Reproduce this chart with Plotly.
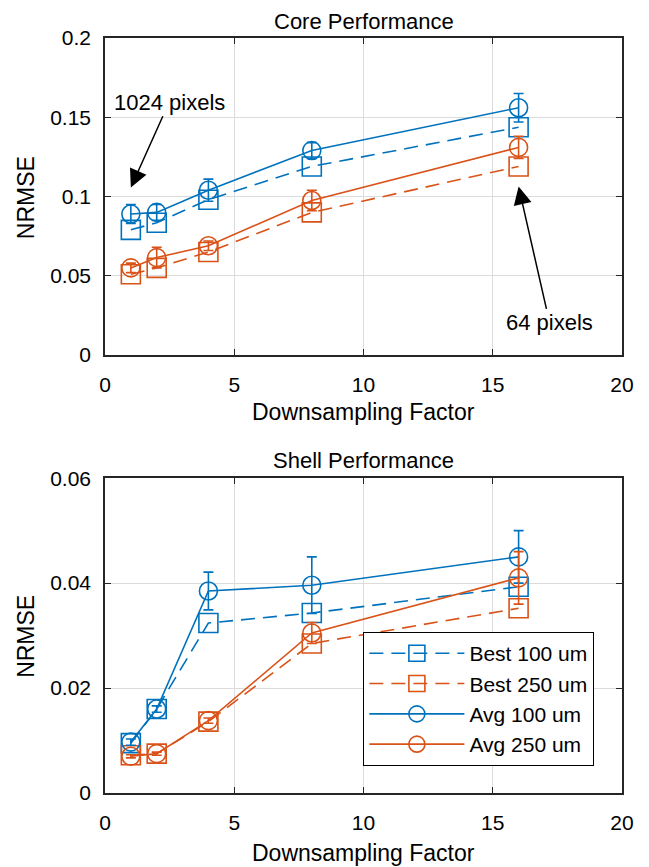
import plotly.graph_objects as go

factors = [1, 2, 4, 8, 16]

# Core performance
core_best_100 = [0.079, 0.0835, 0.098, 0.119, 0.1437]
core_best_250 = [0.051, 0.055, 0.065, 0.090, 0.119]
core_avg_100 = [0.089, 0.090, 0.104, 0.129, 0.156]
core_avg_100_err = [0.006, 0.005, 0.007, 0.005, 0.009]
core_avg_250 = [0.055, 0.0615, 0.069, 0.0975, 0.131]
core_avg_250_err = [0.003, 0.0065, 0.003, 0.0065, 0.007]

# Shell performance
shell_best_100 = [0.0095, 0.016, 0.0324, 0.0343, 0.0393]
shell_best_250 = [0.0072, 0.0075, 0.0136, 0.0285, 0.0352]
shell_avg_100 = [0.0097, 0.016, 0.0385, 0.0396, 0.045]
shell_avg_100_err = [0.0006, 0.0006, 0.0036, 0.0054, 0.005]
shell_avg_250 = [0.007, 0.0075, 0.0138, 0.0305, 0.041]
shell_avg_250_err = [0.0003, 0.0003, 0.0005, 0.002, 0.005]

labels = ["Best 100 um", "Best 250 um", "Avg 100 um", "Avg 250 um"]
x_ticks = [0, 5, 10, 15, 20]
core_y_ticks = [0, 0.05, 0.1, 0.15, 0.2]
shell_y_ticks = [0, 0.02, 0.04, 0.06]

BLUE = "#0072BD"
ORANGE = "#D95319"
FONT = "Liberation Sans, Arial, Helvetica, sans-serif"
DASH = "14px,8px"

fig = go.Figure()


def add_series(xa, ya, best100, best250, avg100, avg100e, avg250, avg250e, show):
    specs = [
        (best100, None, BLUE, DASH, "square-open", 19, labels[0]),
        (best250, None, ORANGE, DASH, "square-open", 19, labels[1]),
        (avg100, avg100e, BLUE, "solid", "circle-open", 18, labels[2]),
        (avg250, avg250e, ORANGE, "solid", "circle-open", 18, labels[3]),
    ]
    for vals, err, col, dash, sym, size, name in specs:
        tr = dict(
            x=factors, y=vals, mode="lines+markers", name=name,
            line=dict(color=col, width=1.6, dash=dash),
            marker=dict(symbol=sym, size=size, color=col, line=dict(width=1.6, color=col)),
            xaxis=xa, yaxis=ya, showlegend=show,
        )
        if err is not None:
            tr["error_y"] = dict(type="data", array=err, visible=True, color=col,
                                 thickness=1.6, width=5)
        fig.add_trace(go.Scatter(**tr))


add_series("x", "y", core_best_100, core_best_250, core_avg_100, core_avg_100_err,
           core_avg_250, core_avg_250_err, False)
add_series("x2", "y2", shell_best_100, shell_best_250, shell_avg_100, shell_avg_100_err,
           shell_avg_250, shell_avg_250_err, True)

axis_common = dict(
    showgrid=True, gridcolor="#DCDCDC", gridwidth=1,
    showline=True, linecolor="#262626", linewidth=1.5, mirror="ticks",
    ticks="inside", ticklen=6, tickwidth=1.2, tickcolor="#262626",
    tickfont=dict(family=FONT, size=21, color="#000000"),
    zeroline=False,
)

fig.update_layout(
    width=641, height=859,
    margin=dict(l=97, r=27, t=30, b=74),
    paper_bgcolor="white", plot_bgcolor="white",
    font=dict(family=FONT, size=21, color="#000000"),
    xaxis=dict(domain=[0, 1], range=[0, 20], tickvals=x_ticks, anchor="y",
               ticklabelstandoff=10, **axis_common),
    yaxis=dict(domain=[0.580, 1], range=[0, 0.2], tickvals=core_y_ticks,
               ticktext=["0", "0.05", "0.1", "0.15", "0.2"], anchor="x",
               ticklabelstandoff=8, **axis_common),
    xaxis2=dict(domain=[0, 1], range=[0, 20], tickvals=x_ticks, anchor="y2",
                ticklabelstandoff=10, **axis_common),
    yaxis2=dict(domain=[0, 0.417], range=[0, 0.06], tickvals=shell_y_ticks,
                ticktext=["0", "0.02", "0.04", "0.06"], anchor="x2",
                ticklabelstandoff=8, **axis_common),
    legend=dict(
        x=0.946, y=0.036, xanchor="right", yanchor="bottom",
        bgcolor="white", bordercolor="#000000", borderwidth=1.3,
        font=dict(family=FONT, size=21, color="#000000"),
        itemwidth=95, tracegroupgap=0,
    ),
)

ann = []
TF = dict(size=23)
# subplot titles
ann.append(dict(text="Core Performance", x=0.5, y=1.0, xref="paper", yref="paper",
                yshift=2, showarrow=False, font=dict(size=22),
                xanchor="center", yanchor="bottom"))
ann.append(dict(text="Shell Performance", x=0.5, y=0.441, xref="paper", yref="paper",
                showarrow=False, font=dict(size=22), xanchor="center", yanchor="middle"))
# x axis titles
ann.append(dict(text="Downsampling Factor", x=0.5, y=0.5046, xref="paper", yref="paper",
                showarrow=False, font=TF, xanchor="center", yanchor="middle"))
ann.append(dict(text="Downsampling Factor", x=0.5, y=-0.0795, xref="paper", yref="paper",
                showarrow=False, font=TF, xanchor="center", yanchor="middle"))
# y axis titles
ann.append(dict(text="NRMSE", x=-0.153, y=0.789, xref="paper", yref="paper", textangle=-90,
                showarrow=False, font=TF, xanchor="center", yanchor="middle"))
ann.append(dict(text="NRMSE", x=-0.153, y=0.208, xref="paper", yref="paper", textangle=-90,
                showarrow=False, font=TF, xanchor="center", yanchor="middle"))
# arrows
ann.append(dict(text="1024 pixels", x=1.0, y=0.1057, xref="x", yref="y",
                ax=2.48, ay=0.1595, axref="x", ayref="y", showarrow=True,
                arrowhead=2, arrowsize=2.4, arrowwidth=1.5, arrowcolor="#000000",
                font=dict(size=22)))
ann.append(dict(text="64 pixels", x=16.0, y=0.1063, xref="x", yref="y",
                ax=17.2, ay=0.0203, axref="x", ayref="y", showarrow=True,
                arrowhead=2, arrowsize=2.4, arrowwidth=1.5, arrowcolor="#000000",
                font=dict(size=22)))
fig.update_layout(annotations=ann)

fig.write_html("out.html")
